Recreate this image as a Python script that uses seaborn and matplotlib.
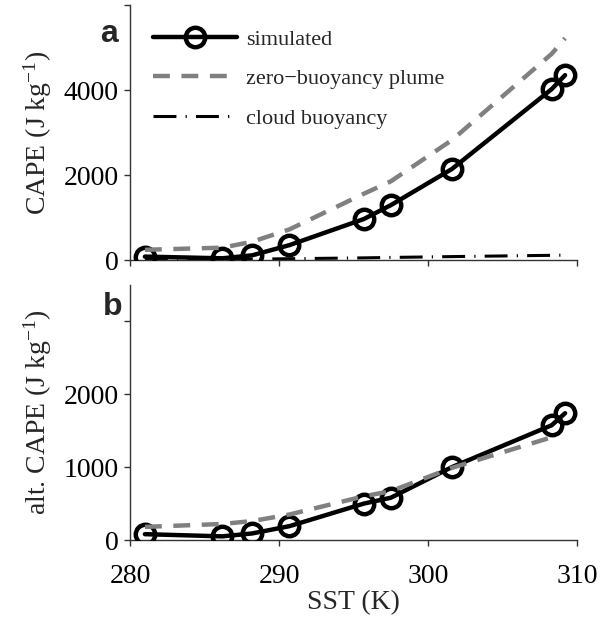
import matplotlib
matplotlib.use("Agg")
import matplotlib.pyplot as plt
import seaborn as sns
import numpy as np

# ---- data ----
sst = [281.0, 286.2, 288.2, 290.7, 295.7, 297.5, 301.6, 308.3, 309.2]
cape_sim = [80, 40, 110, 350, 965, 1290, 2140, 4020, 4350]
cape_plume = [240, 290, 430, 720, 1560, 1850, 2820, 4850, 5220]
cape_cloud = [10, 15, 20, 30, 50, 60, 80, 110, 115]

sst_alt_plume = [281.0, 286.2, 288.2, 290.7, 295.7, 297.5, 301.6, 308.3]
alt_sim = [80, 50, 90, 190, 500, 580, 1000, 1575, 1740]
alt_plume = [180, 220, 260, 350, 600, 670, 990, 1410]

xticks = [280, 290, 300, 310]
yticks_top = [0, 2000, 4000, 6000]
yticks_top_labels = ["0", "2000", "4000", ""]
yticks_bot = [0, 1000, 2000, 3000]
yticks_bot_labels = ["0", "1000", "2000", ""]

sns.set_theme(style="ticks")
plt.rcParams["font.family"] = ["Liberation Serif", "DejaVu Serif"]
plt.rcParams["mathtext.fontset"] = "custom"
plt.rcParams["mathtext.rm"] = "Liberation Serif"
plt.rcParams["mathtext.it"] = "Liberation Serif:italic"
plt.rcParams["mathtext.default"] = "regular"

fig = plt.figure(figsize=(6.0, 6.2), dpi=100)
L, R = 130 / 600, 577 / 600
ax1 = fig.add_axes([L, 1 - 260 / 620, R - L, (260 - 5) / 620])
ax2 = fig.add_axes([L, 1 - 540 / 620, R - L, (540 - 285) / 620])

spine_col = "#333333"
sim_kw = dict(color="black", lw=3.2, marker="o", markersize=14,
              markerfacecolor="none", markeredgecolor="black",
              markeredgewidth=3.2)
plume_kw = dict(color="#808080", lw=3.2, linestyle=(0, (3.8, 2.6)))
cloud_kw = dict(color="black", lw=2.2, linestyle=(0, (7.5, 3.0, 0.4, 3.0)))

# top panel
sns.lineplot(x=sst, y=cape_cloud, ax=ax1, label="cloud buoyancy", zorder=2, **cloud_kw)
sns.lineplot(x=sst, y=cape_sim, ax=ax1, label="simulated", zorder=3, **sim_kw)
sns.lineplot(x=sst, y=cape_plume, ax=ax1, label="zero\u2212buoyancy plume", zorder=4, **plume_kw)

# bottom panel
sns.lineplot(x=sst, y=alt_sim, ax=ax2, zorder=3, **sim_kw)
sns.lineplot(x=sst_alt_plume, y=alt_plume, ax=ax2, zorder=4, **plume_kw)

for ax in (ax1, ax2):
    ax.set_xlim(280, 310)
    ax.set_xticks(xticks)
    for s in ("top", "right"):
        ax.spines[s].set_visible(False)
    for s in ("left", "bottom"):
        ax.spines[s].set_color(spine_col)
        ax.spines[s].set_linewidth(1.0)
    ax.tick_params(direction="out", length=4, width=1.0, color=spine_col,
                   labelsize=20, labelcolor="black")
    ax.tick_params(axis="y", pad=4)
    ax.tick_params(axis="x", pad=13)
    ax.set_facecolor("white")
    ax.grid(False)

ax1.set_ylim(0, 6000)
ax1.set_yticks(yticks_top)
ax1.set_yticklabels(yticks_top_labels)
ax1.set_xticklabels([])
ax1.set_ylabel("CAPE (J kg$^{-1}$)", fontsize=20, labelpad=7)

ax2.set_ylim(0, 3500)
ax2.set_yticks(yticks_bot)
ax2.set_yticklabels(yticks_bot_labels)
ax2.set_xticklabels([str(t) for t in xticks])
ax2.set_ylabel("alt. CAPE (J kg$^{-1}$)", fontsize=20, labelpad=7)
ax2.set_xlabel("SST (K)", fontsize=20, labelpad=1)
if ax2.get_legend() is not None:
    ax2.get_legend().remove()

handles, labels = ax1.get_legend_handles_labels()
order = [labels.index("simulated"), labels.index("zero\u2212buoyancy plume"),
         labels.index("cloud buoyancy")]
ax1.legend([handles[i] for i in order], [labels[i] for i in order],
           loc="upper left", bbox_to_anchor=(153 / 600, 1 - 29 / 620),
           bbox_transform=fig.transFigure, frameon=False, fontsize=16,
           handlelength=3.8, handletextpad=0.4, labelspacing=0.86,
           borderaxespad=0, borderpad=0)

fig.text(109 / 600, 1 - 34 / 620, "a", fontsize=23, fontweight="bold",
         family=["Liberation Sans", "DejaVu Sans"], ha="center", va="center")
fig.text(113 / 600, 1 - 307 / 620, "b", fontsize=23, fontweight="bold",
         family=["Liberation Sans", "DejaVu Sans"], ha="center", va="center")

fig.savefig("out.png", dpi=100, facecolor="white")
